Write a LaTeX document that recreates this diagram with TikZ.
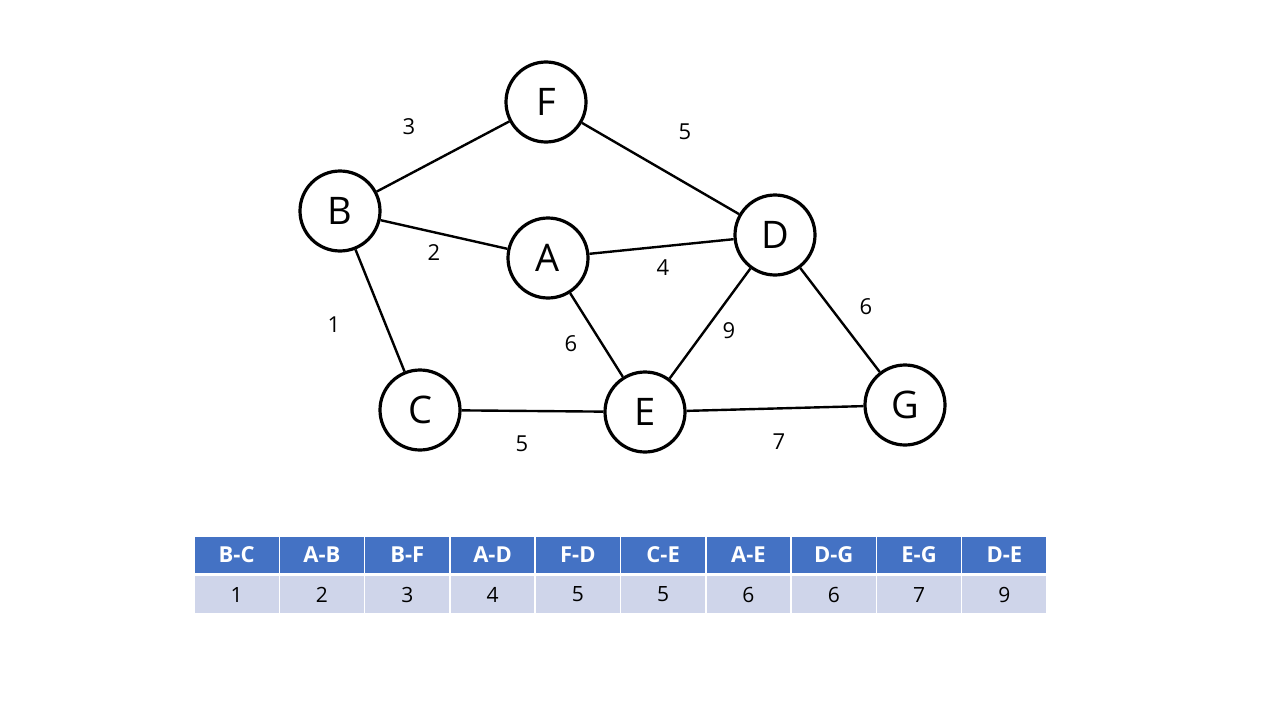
\documentclass[tikz,border=0pt]{standalone}
\usepackage{fontspec}
\setmainfont{Open Sans}
\begin{document}
\begin{tikzpicture}[x=1pt,y=-1pt,
  vtx/.style={circle,draw=black,line width=3.2pt,minimum size=80pt,inner sep=0pt,fill=white,font=\fontsize{38}{40}\selectfont},
  edge/.style={line width=2.4pt,draw=black},
  wlab/.style={font=\fontsize{22}{24}\selectfont,inner sep=0pt},
  hcell/.style={draw=white,line width=1.5pt,fill={rgb,255:red,68;green,114;blue,196},minimum width=85.3pt,minimum height=38pt,inner sep=0pt,text=white,font=\fontsize{22}{24}\selectfont\bfseries},
  dcell/.style={draw=white,line width=1.5pt,fill={rgb,255:red,207;green,213;blue,234},minimum width=85.3pt,minimum height=38pt,inner sep=0pt,font=\fontsize{21}{23}\selectfont}
]
\useasboundingbox[fill=white] (0,0) rectangle (1280,720);
\node[vtx] (F) at (546,102) {F};
\node[vtx] (B) at (340,211) {B};
\node[vtx] (A) at (548,258) {A};
\node[vtx] (D) at (775,235) {D};
\node[vtx] (C) at (420,410) {C};
\node[vtx] (E) at (645,412) {E};
\node[vtx] (G) at (905,405) {G};
\draw[edge] (B) -- (F);
\draw[edge] (F) -- (D);
\draw[edge] (B) -- (A);
\draw[edge] (A) -- (D);
\draw[edge] (B) -- (C);
\draw[edge] (A) -- (E);
\draw[edge] (D) -- (E);
\draw[edge] (D) -- (G);
\draw[edge] (C) -- (E);
\draw[edge] (E) -- (G);
\node[wlab] (l1) at (409,127) {3};
\node[wlab] (l2) at (685,132) {5};
\node[wlab] (l3) at (434,253) {2};
\node[wlab] (l4) at (663,268) {4};
\node[wlab] (l5) at (334,325) {1};
\node[wlab] (l6) at (571,344) {6};
\node[wlab] (l7) at (729,331) {9};
\node[wlab] (l8) at (866,307) {6};
\node[wlab] (l9) at (522,444) {5};
\node[wlab] (l10) at (779,442) {7};
\foreach \h/\v [count=\i from 0] in {B-C/1,A-B/2,B-F/3,A-D/4,F-D/5,C-E/5,A-E/6,D-G/6,E-G/7,D-E/9}{
  \node[hcell] (h\i) at ({194+85.3*\i+42.65},555) {\h};
  \node[dcell] (d\i) at ({194+85.3*\i+42.65},594.5) {\v};
}
\end{tikzpicture}
\end{document}
